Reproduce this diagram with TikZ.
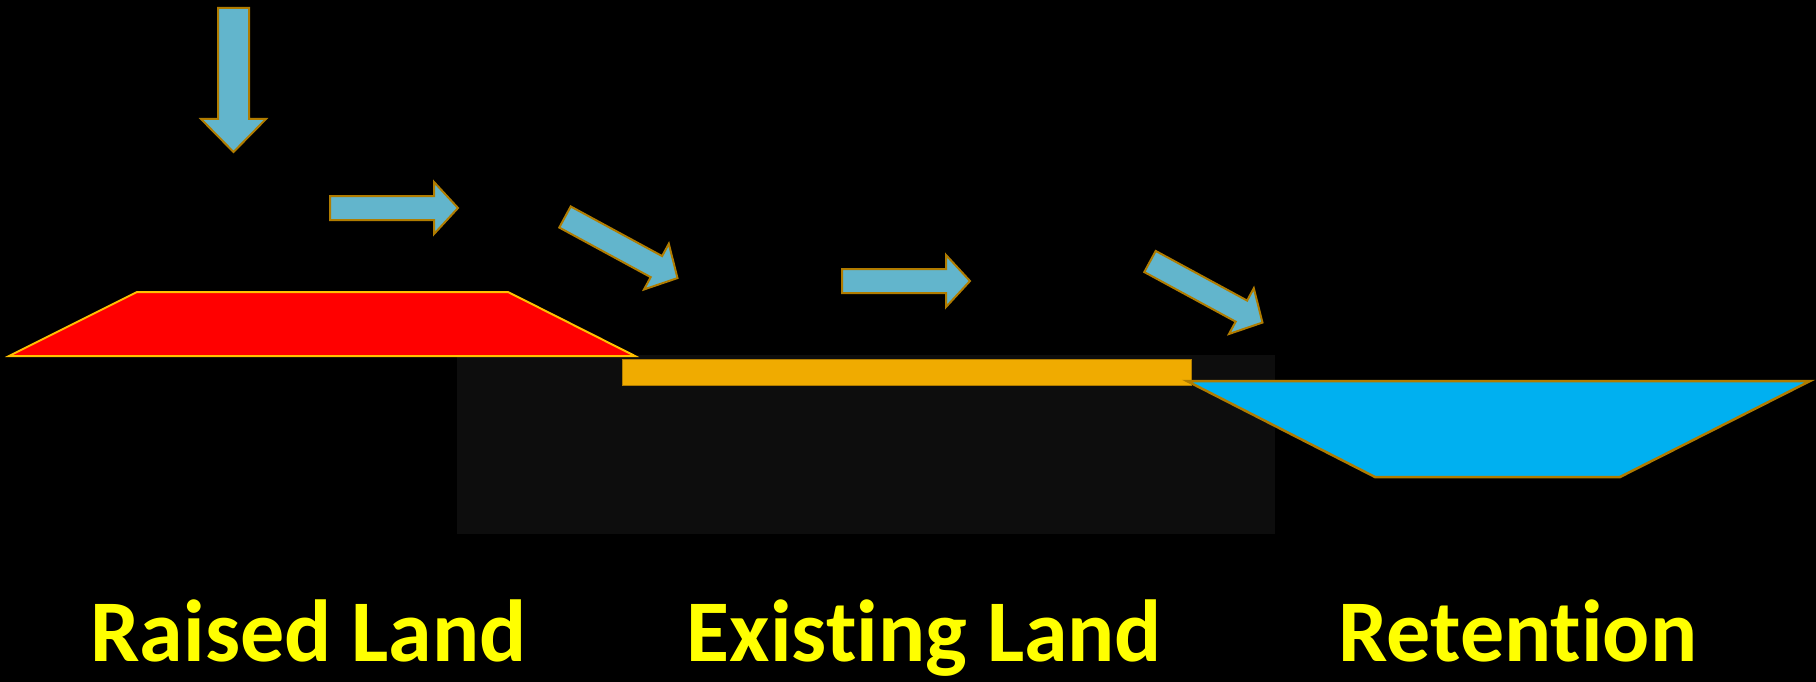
\documentclass[tikz,border=0pt]{standalone}
\usepackage{fontspec}
\setmainfont{Carlito}[Ligatures=NoCommon]
\usetikzlibrary{positioning}

\definecolor{rainblue}{RGB}{98,181,204}
\definecolor{rimgold}{RGB}{176,124,0}
\definecolor{raisedred}{RGB}{255,0,0}
\definecolor{raisedrim}{RGB}{255,192,0}
\definecolor{landgold}{RGB}{240,171,0}
\definecolor{pondblue}{RGB}{0,176,240}
\definecolor{soilgray}{RGB}{13,13,13}
\definecolor{labelyellow}{RGB}{255,255,0}

\tikzset{
  flow/.style={fill=rainblue, draw=rimgold, line width=2pt, line join=miter},
  landlabel/.style={text=labelyellow, font=\fontsize{88}{100}\selectfont\bfseries, anchor=base, inner sep=0pt}
}

\begin{document}
\begin{tikzpicture}[x=1pt,y=-1pt]

% Background
\fill[black] (0,0) rectangle (1816,682);
\useasboundingbox (0,0) rectangle (1816,682);

% Ground under the existing land
\fill[soilgray] (457,355) rectangle (1275,534);

% Raised land, existing land, retention
\draw[fill=raisedred, draw=raisedrim, line width=2pt] (9,356) -- (137,292) -- (508,292) -- (635,356) -- cycle;
\draw[fill=landgold, draw=rimgold, line width=1pt] (622,359) rectangle (1191,385);
\draw[fill=pondblue, draw=rimgold, line width=2.5pt] (1187,381) -- (1810,381) -- (1620,477) -- (1375,477) -- cycle;

% Rain falling down
\draw[flow, shift={(233.5,8)}, rotate=-90] (0,-15.5) -- (111,-15.5) -- (111,-32.5) -- (144,0) -- (111,32.5) -- (111,15.5) -- (0,15.5) -- cycle;

% Runoff
\foreach \px/\py/\ang in {330/208/0, 565/217/-28.5, 842/281/0, 1150/261.5/-28.5}
{
  \draw[flow, shift={(\px,\py)}, rotate=\ang] (0,-12) -- (104,-12) -- (104,-26) -- (128,0) -- (104,26) -- (104,12) -- (0,12) -- cycle;
}

% Labels
\node[landlabel] (raised) at (308.5,661) {Raised Land};
\node[landlabel] (existing) at (924.5,661) {Existing Land};
\node[landlabel] (retention) at (1518,661) {Retention};

\end{tikzpicture}
\end{document}
